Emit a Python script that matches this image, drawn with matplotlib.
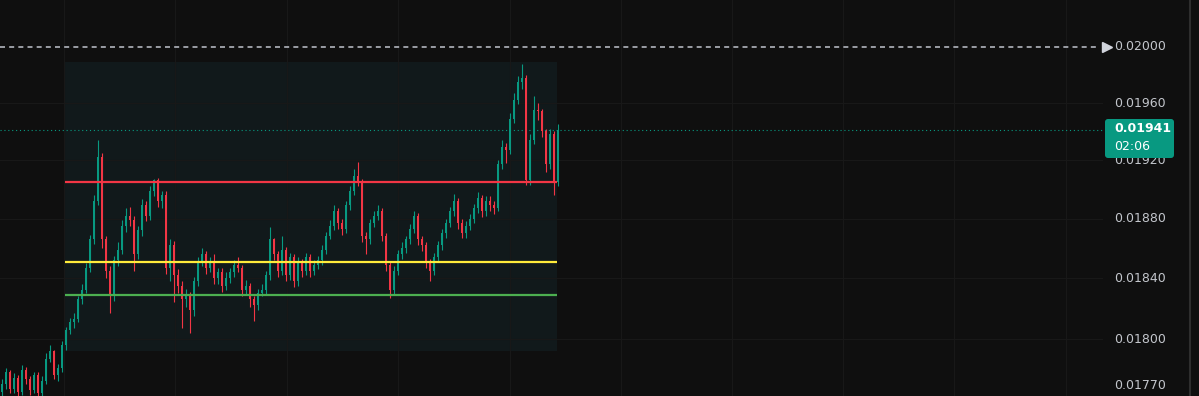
import numpy as np
import matplotlib.pyplot as plt
from matplotlib.patches import Rectangle, FancyBboxPatch
from matplotlib.transforms import IdentityTransform, blended_transform_factory

# candle data (oldest -> newest)
closes = [
    0.01771, 0.01779, 0.01768, 0.01775, 0.01766, 0.01780, 0.01774, 0.01767, 0.01777, 0.01765,
    0.01773, 0.01787, 0.01792, 0.01777, 0.01781, 0.01796, 0.01806, 0.01811, 0.01813, 0.01826,
    0.01832, 0.01847, 0.01866, 0.01892, 0.01922, 0.01866, 0.01845, 0.01828, 0.01852, 0.01859,
    0.01875, 0.01882, 0.01879, 0.01856, 0.01872, 0.01889, 0.01882, 0.01899, 0.01906, 0.01892,
    0.01896, 0.01847, 0.01862, 0.01842, 0.01835, 0.01826, 0.01828, 0.01819, 0.01838, 0.01851,
    0.01856, 0.01847, 0.01851, 0.01840, 0.01844, 0.01835, 0.01840, 0.01844, 0.01849, 0.01847,
    0.01832, 0.01835, 0.01826, 0.01822, 0.01830, 0.01832, 0.01842, 0.01866, 0.01856, 0.01845,
    0.01859, 0.01842, 0.01854, 0.01838, 0.01851, 0.01845, 0.01854, 0.01845, 0.01849, 0.01852,
    0.01859, 0.01868, 0.01875, 0.01885, 0.01877, 0.01873, 0.01889, 0.01899, 0.01909, 0.01905,
    0.01868, 0.01866, 0.01877, 0.01882, 0.01885, 0.01868, 0.01849, 0.01832, 0.01845, 0.01856,
    0.01860, 0.01866, 0.01873, 0.01882, 0.01866, 0.01862, 0.01851, 0.01845, 0.01854, 0.01862,
    0.01870, 0.01877, 0.01885, 0.01892, 0.01877, 0.01870, 0.01875, 0.01880, 0.01887, 0.01894,
    0.01885, 0.01892, 0.01889, 0.01887, 0.01917, 0.01929, 0.01927, 0.01949, 0.01962, 0.01975,
    0.01978, 0.01906, 0.01934, 0.01955, 0.01954, 0.01940, 0.01917, 0.01938, 0.01905, 0.01941,
]
highs = [
    0.01774, 0.01781, 0.01780, 0.01778, 0.01777, 0.01783, 0.01782, 0.01776, 0.01779, 0.01779,
    0.01776, 0.01791, 0.01796, 0.01793, 0.01784, 0.01799, 0.01808, 0.01814, 0.01817, 0.01828,
    0.01836, 0.01850, 0.01869, 0.01896, 0.01934, 0.01925, 0.01868, 0.01848, 0.01855, 0.01864,
    0.01879, 0.01887, 0.01888, 0.01882, 0.01875, 0.01893, 0.01892, 0.01902, 0.01907, 0.01908,
    0.01899, 0.01899, 0.01866, 0.01865, 0.01846, 0.01838, 0.01833, 0.01831, 0.01841, 0.01854,
    0.01860, 0.01858, 0.01854, 0.01856, 0.01847, 0.01847, 0.01844, 0.01847, 0.01852, 0.01854,
    0.01849, 0.01839, 0.01837, 0.01828, 0.01833, 0.01836, 0.01845, 0.01874, 0.01867, 0.01858,
    0.01868, 0.01861, 0.01857, 0.01856, 0.01854, 0.01853, 0.01857, 0.01856, 0.01852, 0.01855,
    0.01862, 0.01871, 0.01879, 0.01889, 0.01887, 0.01880, 0.01892, 0.01902, 0.01914, 0.01919,
    0.01907, 0.01871, 0.01880, 0.01885, 0.01889, 0.01887, 0.01870, 0.01851, 0.01848, 0.01859,
    0.01864, 0.01868, 0.01876, 0.01885, 0.01884, 0.01868, 0.01864, 0.01853, 0.01857, 0.01865,
    0.01873, 0.01880, 0.01888, 0.01897, 0.01894, 0.01880, 0.01878, 0.01883, 0.01890, 0.01898,
    0.01896, 0.01895, 0.01895, 0.01892, 0.01920, 0.01934, 0.01932, 0.01953, 0.01967, 0.01979,
    0.01988, 0.01980, 0.01938, 0.01965, 0.01960, 0.01956, 0.01942, 0.01942, 0.01940, 0.01945,
]
lows = [
    0.01762, 0.01768, 0.01765, 0.01765, 0.01763, 0.01764, 0.01771, 0.01764, 0.01765, 0.01763,
    0.01763, 0.01771, 0.01785, 0.01774, 0.01773, 0.01779, 0.01793, 0.01803, 0.01807, 0.01811,
    0.01823, 0.01830, 0.01844, 0.01863, 0.01889, 0.01860, 0.01840, 0.01817, 0.01825, 0.01848,
    0.01856, 0.01871, 0.01875, 0.01845, 0.01853, 0.01868, 0.01878, 0.01879, 0.01895, 0.01888,
    0.01887, 0.01843, 0.01838, 0.01824, 0.01830, 0.01807, 0.01821, 0.01804, 0.01815, 0.01835,
    0.01848, 0.01843, 0.01844, 0.01836, 0.01836, 0.01831, 0.01832, 0.01837, 0.01841, 0.01844,
    0.01828, 0.01829, 0.01821, 0.01812, 0.01819, 0.01828, 0.01829, 0.01839, 0.01852, 0.01841,
    0.01842, 0.01838, 0.01839, 0.01834, 0.01835, 0.01841, 0.01842, 0.01841, 0.01842, 0.01846,
    0.01849, 0.01856, 0.01866, 0.01872, 0.01873, 0.01869, 0.01870, 0.01886, 0.01896, 0.01902,
    0.01864, 0.01856, 0.01863, 0.01874, 0.01879, 0.01865, 0.01845, 0.01827, 0.01829, 0.01842,
    0.01853, 0.01857, 0.01863, 0.01870, 0.01862, 0.01858, 0.01847, 0.01838, 0.01842, 0.01851,
    0.01859, 0.01867, 0.01874, 0.01882, 0.01873, 0.01867, 0.01867, 0.01872, 0.01877, 0.01884,
    0.01881, 0.01882, 0.01885, 0.01883, 0.01885, 0.01914, 0.01918, 0.01924, 0.01946, 0.01959,
    0.01970, 0.01903, 0.01903, 0.01931, 0.01948, 0.01936, 0.01912, 0.01914, 0.01896, 0.01902,
]
first_open = 0.01766

# drawn levels
resistance = 0.01905
mid_level = 0.01851
support = 0.01829
alert_price = 0.02000
last_price = 0.01941
countdown = "02:06"
box_top, box_bottom = 0.01989, 0.01792

tick_values = [0.02000, 0.01960, 0.01920, 0.01880, 0.01840, 0.01800, 0.01770]
grid_values = [0.01960, 0.01920, 0.01880, 0.01840, 0.01800]

BG = "#0f0f0f"
UP = "#089981"
DOWN = "#f23645"
GRID = "#181818"

opens = [first_open] + closes[:-1]
o = np.array(opens)
c = np.array(closes)
h = np.array(highs)
l = np.array(lows)
idx = np.arange(len(c))
up = c >= o
colors = np.where(up, UP, DOWN)

W, H = 1199, 396
fig = plt.figure(figsize=(W / 100, H / 100), dpi=100)
fig.patch.set_facecolor(BG)
ax = fig.add_axes([0, 0, 1, 1])
ax.set_facecolor(BG)
ax.set_yscale("log")
ax.set_xlim(-0.5, -0.5 + W / 4)
ax.set_ylim(0.017634, 0.020342)
ax.axis("off")


def px(x):
    # pixel column -> bar index
    return (x - 2) / 4


scale_edge = 1102 / W
for v in grid_values:
    ax.axhline(v, xmin=0, xmax=scale_edge, color=GRID, lw=0.8, zorder=1)
for gx in [64, 175, 287, 398, 510, 621, 732, 843, 954, 1066]:
    ax.axvline(px(gx), color=GRID, lw=0.8, zorder=1)

# range box
ax.add_patch(Rectangle((px(65), box_bottom), px(557) - px(65), box_top - box_bottom,
                       facecolor="#1a3a3f", alpha=0.25, edgecolor="none", zorder=0.5))

# candles
ax.vlines(idx, l, h, colors=colors, lw=0.8, zorder=3)
body_h = np.maximum(np.abs(c - o), 0.000005)
ax.bar(idx, body_h, bottom=np.minimum(o, c), width=0.62, color=colors, linewidth=0, zorder=4)

# levels
x0, x1 = px(65), px(557)
ax.hlines(resistance, x0, x1, color="#f23645", lw=1.6, zorder=5)
ax.hlines(mid_level, x0, x1, color="#ffeb3b", lw=1.6, zorder=5)
ax.hlines(support, x0, x1, color="#4caf50", lw=1.6, zorder=5)

# alert line and last price line
ax.axhline(alert_price, xmin=0, xmax=1099 / W, color="#b2b5be", lw=1.2,
           linestyle=(0, (3, 2.5)), zorder=2)
ax.plot([1107 / W], [alert_price], marker=">", markersize=7, color="#d1d4dc",
        transform=blended_transform_factory(ax.transAxes, ax.transData), clip_on=False)
ax.axhline(last_price, xmin=0, xmax=1102 / W, color=UP, lw=0.8,
           linestyle=(0, (1, 2.5)), zorder=2)

# price scale labels
trans = blended_transform_factory(ax.transAxes, ax.transData)
for v in tick_values:
    ax.text(1114 / W, v, f"{v:.5f}", transform=trans, ha="left", va="center",
            fontsize=9, color="#c3c6cc", zorder=6)

# last price tag
tag = FancyBboxPatch((1105, H - 158), 69, 39, boxstyle="round,pad=0,rounding_size=3",
                     transform=IdentityTransform(), facecolor=UP, edgecolor="none", zorder=7)
fig.patches.append(tag)
fig.text(1114 / W, (H - 129) / H, f"{last_price:.5f}", ha="left", va="center",
         fontsize=9, color="white", fontweight="bold", zorder=8)
fig.text(1114 / W, (H - 147) / H, countdown, ha="left", va="center",
         fontsize=9, color="white", zorder=8)

# right edge separator
fig.add_artist(plt.Line2D([1190 / W, 1190 / W], [0, 1], color="#2e2e2e", lw=1.5))

fig.savefig("out.png", dpi=100, facecolor=BG)
